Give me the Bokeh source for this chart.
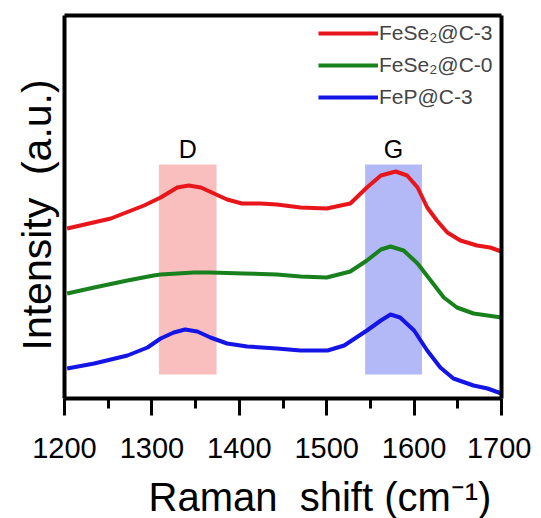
from bokeh.plotting import figure
from bokeh.models import Range1d, FixedTicker, Legend, LegendItem, LinearAxis, Title
from bokeh.core.properties import value
from bokeh.embed import file_html
from bokeh.resources import INLINE

# Raman shift (cm-1) and intensity (a.u.)
red_x = [1203, 1253, 1291, 1310, 1329, 1342, 1356, 1371, 1386, 1403, 1424, 1443, 1470, 1500, 1527, 1546, 1562, 1579, 1592, 1604, 1615, 1626, 1638, 1653, 1672, 1687, 1700]
red_y = [170, 180, 193, 201, 211, 213, 211, 205, 199, 195, 195, 194, 191, 190, 195, 211, 223, 227, 223, 211, 191, 178, 166, 158, 153, 151, 147]

green_x = [1203, 1234, 1272, 1302, 1310, 1348, 1367, 1405, 1443, 1470, 1500, 1527, 1546, 1562, 1573, 1588, 1604, 1619, 1634, 1649, 1668, 1700]
green_y = [105, 111, 118, 123, 124, 126, 126, 125, 124, 122, 121, 127, 138, 149, 152, 148, 135, 118, 101, 91, 85, 81]

blue_x = [1203, 1234, 1272, 1295, 1310, 1325, 1338, 1352, 1367, 1386, 1409, 1443, 1470, 1501, 1520, 1546, 1562, 1573, 1584, 1600, 1615, 1630, 1645, 1668, 1684, 1700]
blue_y = [30, 35, 43, 51, 60, 66, 69, 67, 61, 55, 52, 50, 48, 48, 53, 68, 78, 84, 81, 68, 48, 31, 20, 13, 10, 5]

band_names = ["D", "G"]
band_left = [1308, 1544]
band_right = [1374, 1609]
band_bottom = [24, 24]
band_top = [234, 234]
band_label_y = [250, 250]

x_ticks = [1200, 1300, 1400, 1500, 1600, 1700]
x_minor = [1250, 1350, 1450, 1550, 1650]
labels = ["FeSe\u2082@C-3", "FeSe\u2082@C-0", "FeP@C-3"]
x_title = "Raman\u00a0\u00a0shift (cm\u207b\u00b9)"
y_title = "Intensity\u00a0\u00a0(a.u.)"

FONT = "Liberation Sans"

p = figure(frame_width=437, frame_height=383, output_backend="svg", toolbar_location=None,
           x_range=Range1d(1200, 1700), y_range=Range1d(0, 383),
           min_border_left=64, min_border_right=30, min_border_top=15, min_border_bottom=40)
p.xgrid.visible = False
p.ygrid.visible = False
p.outline_line_color = None
p.background_fill_color = "white"
p.border_fill_color = "white"

p.quad(left=band_left, right=band_right, bottom=band_bottom, top=band_top,
       fill_color=["#f9bfbf", "#b3b9f6"], line_color=None)
p.text(x=[(l + r) / 2 for l, r in zip(band_left, band_right)], y=band_label_y, text=band_names,
       text_align="center", text_baseline="middle", text_font=value(FONT),
       text_font_size="25px", text_color="black")

r1 = p.line(red_x, red_y, line_color="#e8161b", line_width=4, line_join="round")
r2 = p.line(green_x, green_y, line_color="#18801c", line_width=4, line_join="round")
r3 = p.line(blue_x, blue_y, line_color="#1414e6", line_width=4, line_join="round")

legend = Legend(items=[LegendItem(label=labels[0], renderers=[r1]),
                       LegendItem(label=labels[1], renderers=[r2]),
                       LegendItem(label=labels[2], renderers=[r3])],
                location="top_right", margin=6, padding=4, spacing=8,
                glyph_width=60, glyph_height=24, label_height=24, label_width=116,
                label_standoff=1,
                label_text_font=FONT, label_text_font_size="21px",
                border_line_color=None, background_fill_alpha=0)
p.add_layout(legend)

xa = p.xaxis[0]
xa.ticker = FixedTicker(ticks=x_ticks, minor_ticks=x_minor)
xa.axis_line_width = 4
xa.major_tick_line_width = 3
xa.minor_tick_line_width = 3
xa.major_tick_out = 17
xa.major_tick_in = 0
xa.minor_tick_out = 10
xa.minor_tick_in = 0
xa.major_label_text_font = FONT
xa.major_label_text_font_size = "29px"
xa.major_label_text_color = "black"
xa.major_label_standoff = 22

ya = p.yaxis[0]
ya.ticker = FixedTicker(ticks=[])
ya.axis_line_width = 4
ya.major_tick_line_color = None
ya.minor_tick_line_color = None
ya.major_label_standoff = 0

for loc in ("above", "right"):
    ax = LinearAxis(ticker=FixedTicker(ticks=[]), axis_line_width=4,
                    major_tick_line_color=None, minor_tick_line_color=None,
                    major_label_standoff=0)
    p.add_layout(ax, loc)

xt = Title(text=x_title, align="left", offset=84, text_font=FONT,
           text_font_size="40px", text_font_style="normal", text_color="black",
           standoff=24)
p.add_layout(xt, "below")

yt = Title(text=y_title, align="left", offset=48, text_font=FONT,
           text_font_size="41px", text_font_style="normal", text_color="black",
           vertical_align="middle", standoff=8)
p.add_layout(yt, "left")

open("out.html", "w").write(file_html(p, INLINE))
